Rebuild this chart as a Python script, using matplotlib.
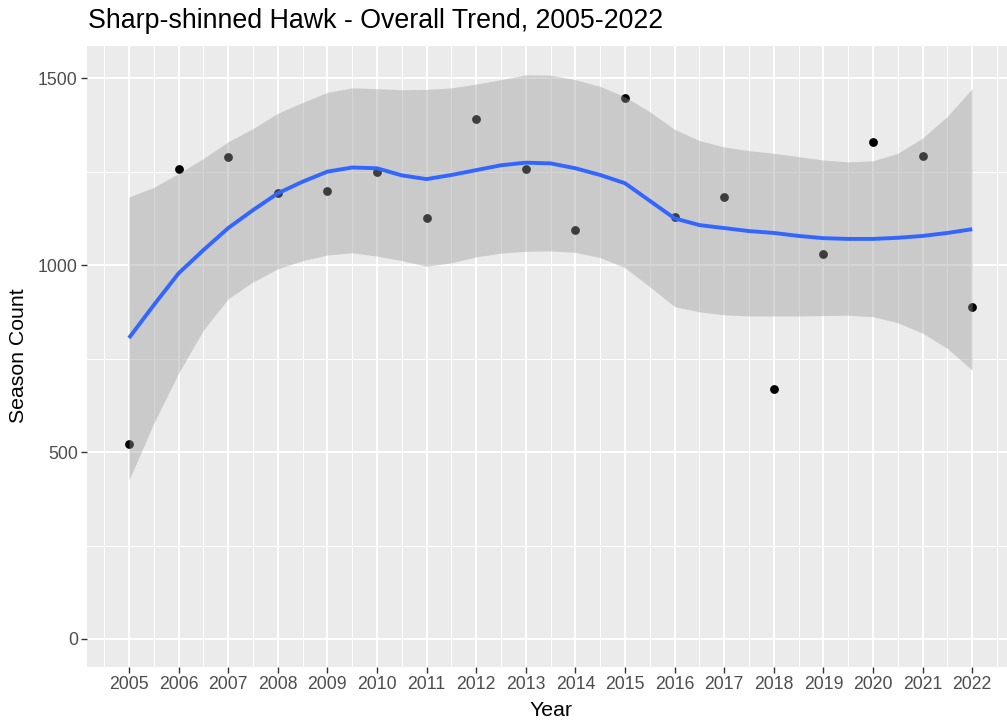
import matplotlib.pyplot as plt
import numpy as np

# season counts per year
years = [2005, 2006, 2007, 2008, 2009, 2010, 2011, 2012, 2013,
         2014, 2015, 2016, 2017, 2018, 2019, 2020, 2021, 2022]
counts = [521, 1256, 1290, 1192, 1198, 1250, 1127, 1390, 1256,
          1095, 1446, 1129, 1181, 668, 1029, 1328, 1292, 888]

# loess trend + 95% band at half-year steps
trend_x = [2005, 2005.5, 2006, 2006.5, 2007, 2007.5, 2008, 2008.5, 2009, 2009.5,
           2010, 2010.5, 2011, 2011.5, 2012, 2012.5, 2013, 2013.5, 2014, 2014.5,
           2015, 2015.5, 2016, 2016.5, 2017, 2017.5, 2018, 2018.5, 2019, 2019.5,
           2020, 2020.5, 2021, 2021.5, 2022]
trend_fit = [805, 893, 978, 1040, 1099, 1147, 1192, 1223, 1250, 1261,
             1259, 1240, 1230, 1241, 1254, 1267, 1274, 1272, 1259, 1241,
             1219, 1172, 1125, 1107, 1099, 1091, 1086, 1078, 1072, 1070,
             1070, 1073, 1078, 1086, 1096]
trend_hi = [1182, 1208, 1245, 1285, 1330, 1365, 1406, 1435, 1462, 1474,
            1472, 1469, 1470, 1474, 1484, 1496, 1509, 1508, 1496, 1478,
            1450, 1410, 1363, 1333, 1316, 1306, 1299, 1290, 1281, 1276,
            1279, 1299, 1340, 1398, 1472]
trend_lo = [425, 577, 711, 826, 910, 955, 990, 1012, 1027, 1033,
            1024, 1012, 997, 1006, 1022, 1032, 1037, 1038, 1034, 1020,
            993, 942, 889, 875, 867, 864, 864, 864, 865, 866,
            862, 846, 818, 777, 719]

plt.rcParams['font.family'] = ['Liberation Sans', 'DejaVu Sans']

fig = plt.figure(figsize=(10.07, 7.21), dpi=100)
ax = fig.add_axes([0.0862, 0.0746, 0.9211, 0.8616])
ax.set_facecolor('#EBEBEB')

ax.scatter(years, counts, s=40, color='black', zorder=3, linewidths=0)
ax.fill_between(trend_x, trend_lo, trend_hi, color='#999999', alpha=0.4,
                linewidth=0, zorder=4)
ax.plot(trend_x, trend_fit, color='#3366FF', lw=2.8, zorder=5,
        solid_capstyle='butt', solid_joinstyle='round')

ax.set_xlim(2004.15, 2022.85)
ax.set_ylim(-75.5, 1586)
ax.set_xticks(years)
ax.set_xticks([y + 0.5 for y in years[:-1]] + [2004.5, 2022.5], minor=True)
ax.set_yticks([0, 500, 1000, 1500])
ax.set_yticks([250, 750, 1250], minor=True)

ax.grid(which='major', color='white', linewidth=1.4, zorder=0)
ax.grid(which='minor', color='white', linewidth=0.7, zorder=0)
ax.set_axisbelow(True)
for sp in ax.spines.values():
    sp.set_visible(False)

ax.tick_params(which='major', length=4, width=1.0, color='#333333',
               labelsize=12.7, labelcolor='#4D4D4D', pad=2.5)
ax.tick_params(which='minor', length=0)

fig.text(0.5468, 0.0069, 'Year', fontsize=15.3, ha='center', va='baseline')
fig.text(0.018, 0.5062, 'Season Count', fontsize=15.3, ha='center',
         va='center', rotation=90)
fig.text(0.0874, 0.971, 'Sharp-shinned Hawk - Overall Trend, 2005-2022',
         fontsize=19.3, ha='left', va='center')

fig.savefig('out.png', dpi=100)
